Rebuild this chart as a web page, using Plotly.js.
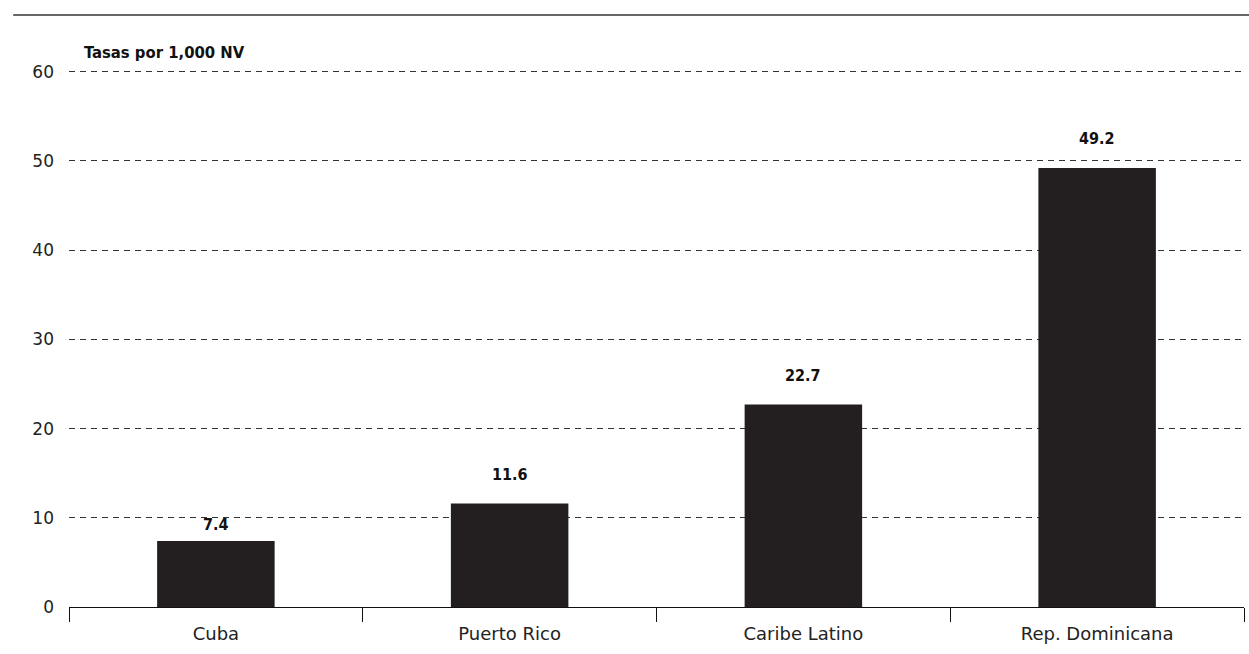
<!DOCTYPE html>
<html>
<head>
<meta charset="utf-8">
<script src="https://cdn.plot.ly/plotly-3.0.1.min.js"></script>
<style>html,body{margin:0;padding:0;background:#fff;}#chart{width:1249px;height:654px;}</style>
</head>
<body>
<div id="chart"></div>
<script>
const categories = ["Cuba", "Puerto Rico", "Caribe Latino", "Rep. Dominicana"];
const values = [7.4, 11.6, 22.7, 49.2];
const valueLabels = ["7.4", "11.6", "22.7", "49.2"];
const yTicks = [0, 10, 20, 30, 40, 50, 60];
const unitLabel = "Tasas por 1,000 NV";

const font = "'DejaVu Sans', sans-serif";
const boldFont = "'DejaVu Sans Condensed', 'DejaVu Sans', sans-serif";
const trace = {
  type: "bar",
  x: categories,
  y: values,
  marker: {color: "#231f20"},
  hoverinfo: "skip"
};

const annotations = categories.map((c, i) => ({
  x: c, y: values[i], xref: "x", yref: "y",
  text: "<b>" + valueLabels[i] + "</b>",
  showarrow: false, yanchor: "bottom",
  yshift: values[i] < 10 ? 5 : 18,
  font: {family: boldFont, size: 16, color: "#111"}
}));
annotations.push({
  xref: "paper", yref: "paper", x: 0.011, y: 1.011,
  xanchor: "left", yanchor: "bottom",
  text: "<b>" + unitLabel + "</b>", showarrow: false,
  font: {family: boldFont, size: 16.5, color: "#111"}
});

const layout = {
  width: 1249, height: 654,
  margin: {l: 69, r: 5, t: 70, b: 47},
  paper_bgcolor: "#fff", plot_bgcolor: "#fff",
  bargap: 0.6,
  showlegend: false,
  font: {family: font, size: 17, color: "#222"},
  xaxis: {
    type: "category",
    showline: true, linecolor: "#111", linewidth: 1,
    ticks: "outside", tickson: "boundaries", ticklen: 14, tickcolor: "#111", tickwidth: 1,
    showgrid: false, zeroline: false,
    ticklabelstandoff: 10,
    tickfont: {family: font, size: 18, color: "#222"}
  },
  yaxis: {
    range: [0, 60.2],
    tickvals: yTicks,
    ticktext: yTicks.map(String),
    showline: false, ticks: "",
    showgrid: true, gridcolor: "#333", griddash: "6px,5px", gridwidth: 1,
    zeroline: false,
    ticklabelstandoff: 14,
    tickfont: {family: font, size: 17, color: "#222"}
  },
  shapes: [{
    type: "line", xref: "paper", yref: "paper",
    x0: -0.0475, x1: 1.005, y0: 1.1024, y1: 1.1024,
    line: {color: "#666", width: 2}
  }],
  annotations: annotations
};

Plotly.newPlot("chart", [trace], layout, {displayModeBar: false, staticPlot: true});
</script>
</body>
</html>
